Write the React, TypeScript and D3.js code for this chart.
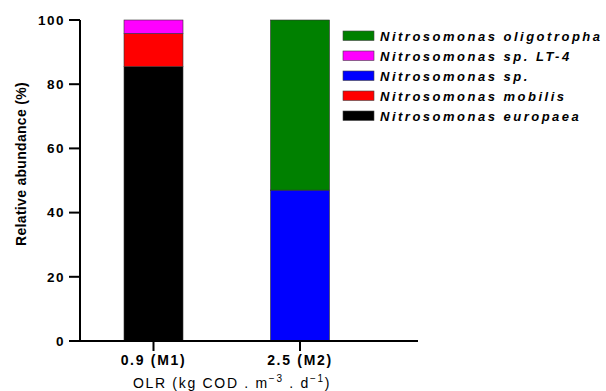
import React from "react";
import * as d3 from "d3";

const categories = ["0.9 (M1)", "2.5 (M2)"];
const species = [
  "Nitrosomonas europaea",
  "Nitrosomonas mobilis",
  "Nitrosomonas sp.",
  "Nitrosomonas sp. LT-4",
  "Nitrosomonas oligotropha",
];
const colors = ["#000000", "#ff0000", "#0000ff", "#ff00ff", "#008000"];
const europaea = [85.5, 0];
const mobilis = [10.3, 0];
const spValues = [0, 47];
const lt4 = [4.2, 0];
const oligotropha = [0, 53];
const yTicks = [0, 20, 40, 60, 80, 100];
const legendOrder = [4, 3, 2, 1, 0];

const FONT = "'Liberation Sans', Arial, sans-serif";

export default function App() {
  const W = 606, H = 391;
  const x0 = 80, x1 = 418, yTop = 20, yBot = 341;
  const x = d3.scalePoint<string>().domain(categories).range([153.5, 300]);
  const y = d3.scaleLinear().domain([0, 100]).range([yBot, yTop]);
  const barW = 59;

  const table = categories.map((c, i) => ({
    cat: c,
    [species[0]]: europaea[i],
    [species[1]]: mobilis[i],
    [species[2]]: spValues[i],
    [species[3]]: lt4[i],
    [species[4]]: oligotropha[i],
  }));
  const stack = d3.stack<any>().keys(species)(table);

  return (
    <svg width={W} height={H} style={{ position: "absolute", left: 0, top: 0, background: "#fff" }}>
      <rect width={W} height={H} fill="#fff" />
      {stack.map((layer, si) =>
        layer.map((d, ci) => {
          const h = y(d[0]) - y(d[1]);
          if (h <= 0) return null;
          return (
            <rect
              key={`${si}-${ci}`}
              x={(x(categories[ci]) as number) - barW / 2}
              y={y(d[1])}
              width={barW}
              height={h}
              fill={colors[si]}
              stroke="#333"
              strokeWidth={0.6}
            />
          );
        })
      )}
      {/* y axis */}
      <line x1={x0} x2={x0} y1={yTop} y2={yBot + 1} stroke="#000" strokeWidth={2} />
      {yTicks.map((t) => (
        <g key={t}>
          <line x1={69} x2={x0} y1={y(t)} y2={y(t)} stroke="#000" strokeWidth={2} />
          <text
            x={65}
            y={y(t)}
            dy="0.36em"
            textAnchor="end"
            fontFamily={FONT}
            fontWeight="bold"
            fontSize={13.5}
            letterSpacing={1.5}
            fill="#000"
          >
            {t}
          </text>
        </g>
      ))}
      {/* x axis */}
      <line x1={x0 - 1} x2={x1} y1={yBot} y2={yBot} stroke="#000" strokeWidth={2} />
      {categories.map((c) => (
        <g key={c}>
          <line x1={x(c)} x2={x(c)} y1={yBot} y2={351} stroke="#000" strokeWidth={2} />
          <text
            x={x(c)}
            y={365}
            textAnchor="middle"
            fontFamily={FONT}
            fontWeight="bold"
            fontSize={14}
            letterSpacing={1.7}
            fill="#000"
          >
            {c}
          </text>
        </g>
      ))}
      <text
        x={232}
        y={388}
        textAnchor="middle"
        fontFamily={FONT}
        fontSize={14}
        letterSpacing={1.7}
        fill="#000"
      >
        OLR (kg COD . m
        <tspan fontSize={10} dy={-6}>−3</tspan>
        <tspan dy={6}> . d</tspan>
        <tspan fontSize={10} dy={-6}>−1</tspan>
        <tspan dy={6}>)</tspan>
      </text>
      <text
        transform={`translate(26,${164}) rotate(-90)`}
        textAnchor="middle"
        fontFamily={FONT}
        fontWeight="bold"
        fontSize={14}
        letterSpacing={0.3}
        fill="#000"
      >
        Relative abundance (%)
      </text>
      {/* legend */}
      {legendOrder.map((si, i) => (
        <g key={si} transform={`translate(343,${31 + i * 20})`}>
          <rect width={31} height={9.5} fill={colors[si]} stroke="#444" strokeWidth={0.6} />
          <text
            x={37}
            y={5}
            dy="0.36em"
            fontFamily={FONT}
            fontWeight="bold"
            fontStyle="italic"
            fontSize={13}
            letterSpacing={2.5}
            fill="#000"
          >
            {species[si]}
          </text>
        </g>
      ))}
    </svg>
  );
}
